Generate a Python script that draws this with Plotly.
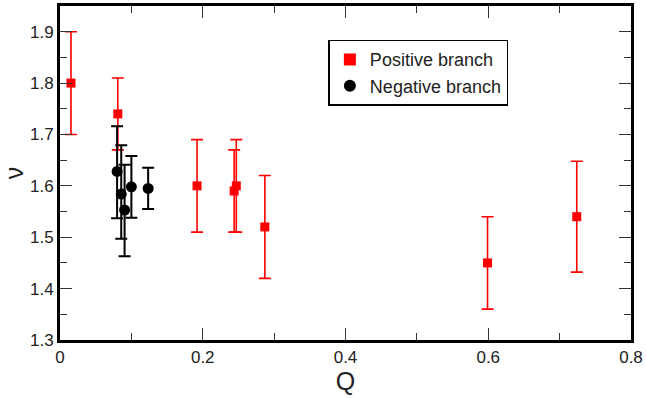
import plotly.graph_objects as go

# Positive branch (red squares)
pos_q = [0.0154, 0.081, 0.192, 0.244, 0.247, 0.287, 0.599, 0.724]
pos_nu = [1.80, 1.74, 1.60, 1.59, 1.60, 1.52, 1.45, 1.54]
pos_err = [0.10, 0.07, 0.09, 0.08, 0.09, 0.10, 0.09, 0.108]

# Negative branch (black circles)
neg_q = [0.080, 0.0858, 0.0905, 0.100, 0.1235]
neg_nu = [1.628, 1.584, 1.553, 1.598, 1.595]
neg_err_plus = [0.088, 0.095, 0.088, 0.060, 0.040]
neg_err_minus = [0.091, 0.087, 0.090, 0.060, 0.040]

x_ticks = [0, 0.2, 0.4, 0.6, 0.8]
x_labels = ["0", "0.2", "0.4", "0.6", "0.8"]
y_ticks = [1.3, 1.4, 1.5, 1.6, 1.7, 1.8, 1.9]
y_labels = ["1.3", "1.4", "1.5", "1.6", "1.7", "1.8", "1.9"]

FONT = "Liberation Sans, Arial, Helvetica, sans-serif"

fig = go.Figure()
fig.add_trace(go.Scatter(
    x=pos_q, y=pos_nu, mode="markers", name="Positive branch",
    marker=dict(symbol="square", size=9, color="#ff0000"),
    error_y=dict(type="data", array=pos_err, visible=True,
                 color="#ff0000", thickness=1.6, width=6),
))
fig.add_trace(go.Scatter(
    x=neg_q, y=neg_nu, mode="markers", name="Negative branch",
    marker=dict(symbol="circle", size=11, color="#000000"),
    error_y=dict(type="data", symmetric=False, array=neg_err_plus,
                 arrayminus=neg_err_minus, visible=True,
                 color="#000000", thickness=2, width=6),
))

axis_common = dict(
    showline=True, linecolor="black", linewidth=3, mirror="allticks",
    ticks="inside", ticklen=12, tickwidth=1, tickcolor="#333333",
    showgrid=False, zeroline=False,
    tickfont=dict(family=FONT, size=17, color="#222222"),
)

fig.update_xaxes(
    range=[0, 0.8], tickvals=x_ticks, ticktext=x_labels,
    minor=dict(ticks="inside", ticklen=7, tickwidth=1, tickcolor="#333333", dtick=0.1),
    title=dict(text="Q", font=dict(family=FONT, size=25, color="#222222"), standoff=1),
    **axis_common,
)
fig.update_yaxes(
    range=[1.3, 1.95], tickvals=y_ticks, ticktext=y_labels,
    minor=dict(ticks="inside", ticklen=7, tickwidth=1, tickcolor="#333333", dtick=0.05),
    title=dict(text="ν", font=dict(family=FONT, size=25, color="#222222"), standoff=6),
    **axis_common,
)

fig.update_layout(
    width=646, height=398,
    margin=dict(l=60, r=14, t=3, b=58),
    plot_bgcolor="white", paper_bgcolor="white",
    font=dict(family=FONT, color="#222222"),
    legend=dict(
        x=0.470, y=0.899, xanchor="left", yanchor="top",
        bordercolor="black", borderwidth=1.5, bgcolor="white",
        font=dict(family=FONT, size=18, color="#222222"),
        tracegroupgap=0, itemsizing="constant",
    ),
)

fig.write_html("out.html")
